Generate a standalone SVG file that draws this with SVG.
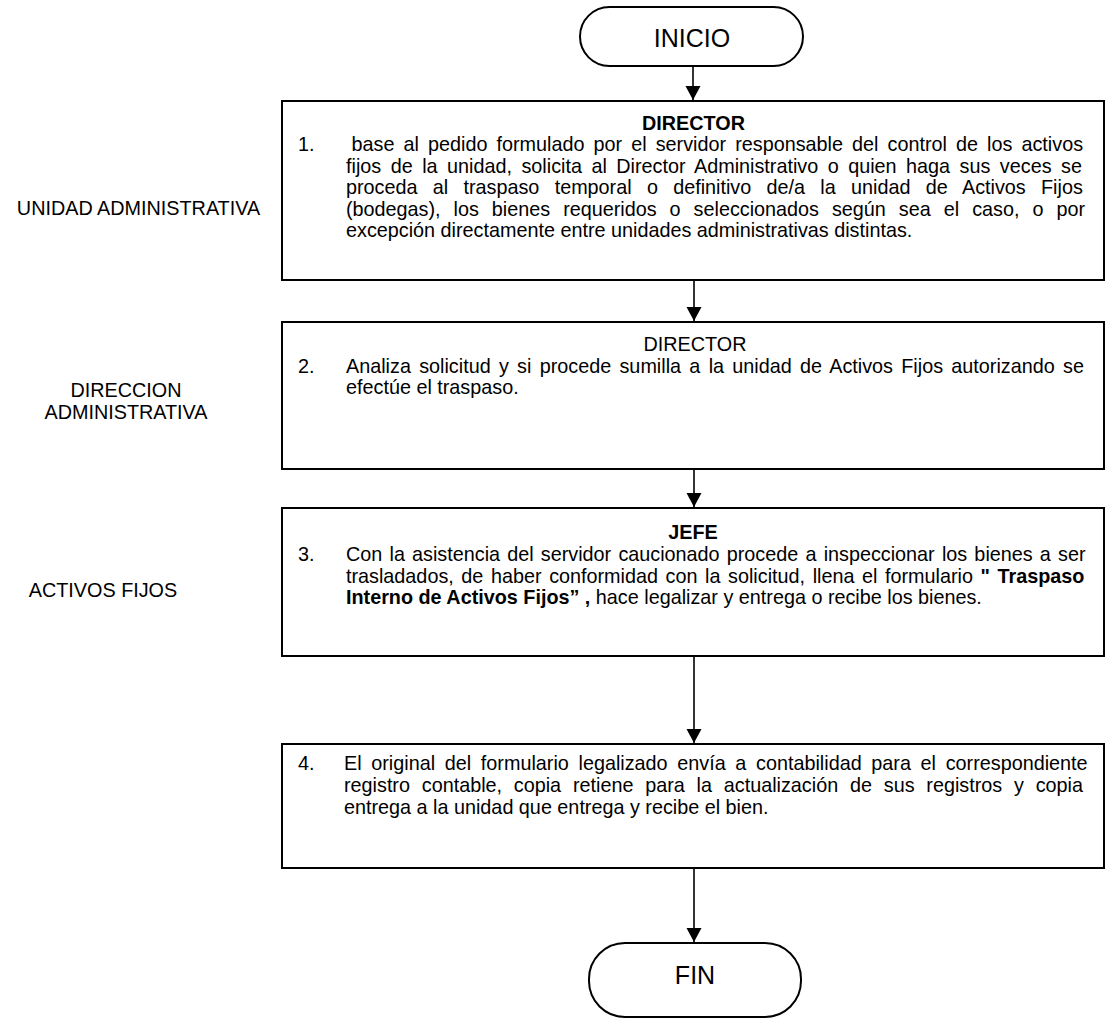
<svg xmlns="http://www.w3.org/2000/svg" width="1108" height="1022" viewBox="0 0 1108 1022">
  <defs>
    <marker id="ah" markerUnits="userSpaceOnUse" markerWidth="15" markerHeight="16" refX="14" refY="7.5" orient="auto">
      <path d="M0,0 L14,7.5 L0,15 Z" fill="#000"/>
    </marker>
    <style>
      text { font-family: "Liberation Sans", Arial, sans-serif; font-size: 19.8px; fill: #000; }
      .term { fill: #fff; stroke: #000; stroke-width: 2; }
      .box { fill: #fff; stroke: #000; stroke-width: 2; }
      .conn { stroke: #000; stroke-width: 1.6; fill: none; marker-end: url(#ah); }
      .big { font-size: 25px; }
      .b { font-weight: bold; }
      .mid { text-anchor: middle; }
    </style>
  </defs>
  <rect width="1108" height="1022" fill="#fff"/>

  <g id="labels">
    <text x="138.5" y="215" class="mid">UNIDAD ADMINISTRATIVA</text>
    <text x="126" y="397" class="mid">DIRECCION</text>
    <text x="126" y="419" class="mid">ADMINISTRATIVA</text>
    <text x="103" y="597" class="mid">ACTIVOS FIJOS</text>
  </g>

  <g id="connectors">
    <line class="conn" x1="693" y1="66" x2="693" y2="100"/>
    <line class="conn" x1="694" y1="280" x2="694" y2="321"/>
    <line class="conn" x1="694" y1="469" x2="694" y2="507"/>
    <line class="conn" x1="694" y1="656" x2="694" y2="743"/>
    <line class="conn" x1="694" y1="868" x2="694" y2="942"/>
  </g>

  <g id="inicio">
    <rect class="term" x="580" y="7" width="223" height="59" rx="29.5"/>
    <text x="692" y="47" class="big mid">INICIO</text>
  </g>

  <g id="step1">
    <rect class="box" x="282" y="101" width="822" height="179"/>
    <text x="693.5" y="130" class="b mid">DIRECTOR</text>
    <text x="298" y="151">1.</text>
    <text x="351.5" y="151" word-spacing="3.6">base al pedido formulado por el servidor responsable del control de los activos</text>
    <text x="346" y="173" word-spacing="4.0">fijos de la unidad, solicita al Director Administrativo o quien haga sus veces se</text>
    <text x="346" y="194" word-spacing="9.8">proceda al traspaso temporal o definitivo de/a la unidad de Activos Fijos</text>
    <text x="346" y="216" word-spacing="7.5">(bodegas), los bienes requeridos o seleccionados según sea el caso, o por</text>
    <text x="346" y="237">excepción directamente entre unidades administrativas distintas.</text>
  </g>

  <g id="step2">
    <rect class="box" x="282" y="322" width="822" height="147"/>
    <text x="695" y="351" class="mid">DIRECTOR</text>
    <text x="298" y="372.5">2.</text>
    <text x="346" y="372.5" word-spacing="2.8">Analiza solicitud y si procede sumilla a la unidad de Activos Fijos autorizando se</text>
    <text x="346" y="394">efectúe el traspaso.</text>
  </g>

  <g id="step3">
    <rect class="box" x="282" y="508" width="822" height="148"/>
    <text x="693" y="539" class="b mid">JEFE</text>
    <text x="298" y="561">3.</text>
    <text x="346" y="561" word-spacing="1.7">Con la asistencia del servidor caucionado procede a inspeccionar los bienes a ser</text>
    <text x="346" y="582.5" word-spacing="2.1">trasladados, de haber conformidad con la solicitud, llena el formulario <tspan class="b">" Traspaso</tspan></text>
    <text x="346" y="604"><tspan class="b">Interno de Activos Fijos” ,</tspan> hace legalizar y entrega o recibe los bienes.</text>
  </g>

  <g id="step4">
    <rect class="box" x="282" y="744" width="822" height="124"/>
    <text x="298" y="770">4.</text>
    <text x="344" y="770" word-spacing="4.2">El original del formulario legalizado envía a contabilidad para el correspondiente</text>
    <text x="344" y="792" word-spacing="6.3">registro contable, copia retiene para la actualización de sus registros y copia</text>
    <text x="344" y="814">entrega a la unidad que entrega y recibe el bien.</text>
  </g>

  <g id="fin">
    <rect class="term" x="589" y="943" width="212" height="74" rx="36"/>
    <text x="695" y="984" class="big mid">FIN</text>
  </g>
</svg>
